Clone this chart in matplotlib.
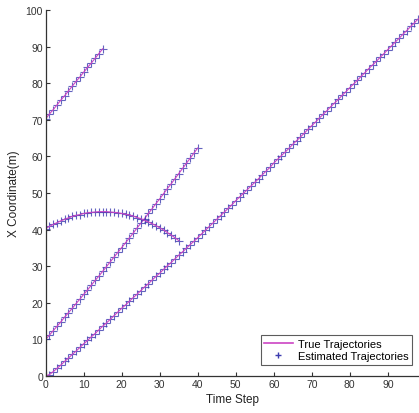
"""Target x-coordinate vs time step: true and estimated trajectories."""

import matplotlib

matplotlib.use("Agg")
import matplotlib.pyplot as plt
from matplotlib.lines import Line2D

plt.rcParams.update({"font.family": ["Liberation Sans", "DejaVu Sans"]})

# x coordinate (m), one value per time step
traj_a = [
    0.0, 0.4, 1.2, 2.1, 3.0, 4.0, 4.9, 5.9, 6.8, 7.8,
    8.8, 9.7, 10.7, 11.6, 12.6, 13.6, 14.5, 15.5, 16.5, 17.5,
    18.5, 19.4, 20.4, 21.4, 22.3, 23.3, 24.3, 25.2, 26.2, 27.2,
    28.1, 29.1, 30.1, 31.0, 32.0, 33.0, 33.9, 34.9, 35.9, 36.8,
    37.8, 38.8, 39.8, 40.8, 41.8, 42.8, 43.8, 44.8, 45.8, 46.8,
    47.9, 48.9, 49.9, 50.9, 51.9, 52.9, 53.9, 55.0, 56.0, 57.0,
    58.2, 59.2, 60.2, 61.2, 62.2, 63.3, 64.3, 65.3, 66.3, 67.4,
    68.4, 69.4, 70.5, 71.5, 72.5, 73.6, 74.6, 75.6, 76.7, 77.7,
    78.8, 79.8, 80.8, 81.9, 82.9, 84.0, 85.0, 86.0, 87.1, 88.1,
    89.2, 90.2, 91.3, 92.3, 93.4, 94.4, 95.5, 96.5, 97.6,
]
traj_b = [
    10.0, 11.2, 12.4, 13.6, 14.8, 16.1, 17.3, 18.5, 19.8, 21.0,
    22.3, 23.5, 24.8, 26.1, 27.3, 28.6, 29.9, 31.2, 32.5, 33.8,
    35.1, 36.4, 37.7, 39.0, 40.4, 41.7, 43.0, 44.4, 45.7, 47.1,
    48.4, 49.8, 51.2, 52.5, 53.9, 55.3, 56.7, 58.1, 59.5, 60.9,
    62.3,
]
traj_c = [
    70.3, 71.6, 72.8, 74.1, 75.4, 76.6, 77.9, 79.2, 80.5, 81.7,
    83.0, 84.3, 85.5, 86.8, 88.1, 89.4,
]
traj_d = [
    40.3, 40.9, 41.4, 41.9, 42.4, 42.8, 43.2, 43.6, 43.9, 44.1,
    44.4, 44.6, 44.7, 44.8, 44.9, 44.9, 44.9, 44.8, 44.7, 44.6,
    44.4, 44.2, 44.0, 43.7, 43.3, 43.0, 42.5, 42.1, 41.6, 41.1,
    40.5, 39.9, 39.2, 38.5, 37.8, 37.0,
]
trajectories = [traj_a, traj_b, traj_c, traj_d]

x_ticks = [0, 10, 20, 30, 40, 50, 60, 70, 80, 90]
y_ticks = [0, 10, 20, 30, 40, 50, 60, 70, 80, 90, 100]

TRUE_C = "#cc44c4"
EST_C = "#3c3caf"
AX_C = "#333333"

fig = plt.figure(figsize=(4.19, 4.14), dpi=100)
ax = fig.add_axes([0.109, 0.0894, 0.891, 0.884])

for y in trajectories:
    steps = list(range(len(y)))
    ax.plot(steps, y, ls="none", marker="+", ms=5.5, mew=0.8, color=EST_C, alpha=0.8)
    ax.plot(steps, y, color=TRUE_C, lw=0.8)

ax.set_xlim(0, 98.2)
ax.set_ylim(0, 100)
ax.set_xticks(x_ticks)
ax.set_yticks(y_ticks)
ax.tick_params(direction="in", length=3, width=0.8, labelsize=7.5, colors=AX_C, pad=2)
for side in ("top", "right"):
    ax.spines[side].set_visible(False)
for side in ("left", "bottom"):
    ax.spines[side].set_color(AX_C)
    ax.spines[side].set_linewidth(0.9)

ax.set_xlabel("Time Step", fontsize=8.5, color="#222222", labelpad=3)
ax.set_ylabel("X Coordinate(m)", fontsize=8.5, color="#222222", labelpad=4)

handles = [
    Line2D([], [], color=TRUE_C, lw=1.2),
    Line2D([], [], ls="none", marker="+", ms=5, mew=1.0, color=EST_C),
]
leg = ax.legend(
    handles,
    ["True Trajectories", "Estimated Trajectories"],
    loc="lower right",
    bbox_to_anchor=(0.982, 0.031),
    fontsize=8,
    frameon=True,
    fancybox=False,
    edgecolor=AX_C,
    handlelength=2.6,
    handletextpad=0.5,
    borderpad=0.3,
    labelspacing=0.25,
    borderaxespad=0,
)
leg.get_frame().set_linewidth(0.8)

fig.savefig("out.png", dpi=100)
